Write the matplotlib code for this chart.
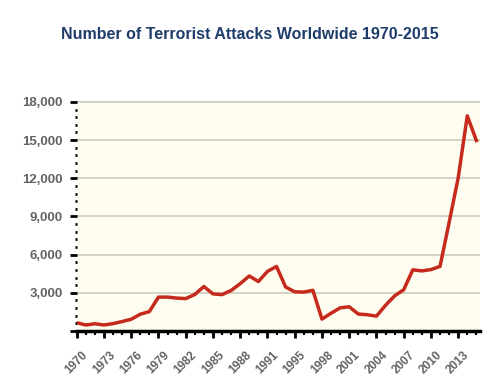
import matplotlib
matplotlib.use("Agg")
import matplotlib.pyplot as plt
from matplotlib.ticker import FuncFormatter, MultipleLocator

# GTD yearly counts (1993 missing from the source data)
years = [1970, 1971, 1972, 1973, 1974, 1975, 1976, 1977, 1978, 1979,
         1980, 1981, 1982, 1983, 1984, 1985, 1986, 1987, 1988, 1989,
         1990, 1991, 1992, 1994, 1995, 1996, 1997, 1998, 1999, 2000,
         2001, 2002, 2003, 2004, 2005, 2006, 2007, 2008, 2009, 2010,
         2011, 2012, 2013, 2014, 2015]
attacks = [651, 471, 568, 473, 581, 740, 923, 1319, 1526, 2662,
           2662, 2586, 2544, 2870, 3495, 2915, 2860, 3183, 3721, 4324,
           3887, 4683, 5071, 3456, 3081, 3058, 3197, 934, 1395, 1814,
           1906, 1333, 1278, 1166, 2017, 2758, 3242, 4805, 4721, 4826,
           5076, 8522, 12036, 16903, 14965]
y_ticks = [3000, 6000, 9000, 12000, 15000, 18000]

title_color = "#1f3d6b"
line_color = "#c62a1c"
label_color = "#636363"

fig = plt.figure(figsize=(5, 3.9), dpi=100)
ax = fig.add_axes([0.1534, 0.1513, 0.8066, 0.5923])
ax.set_facecolor("#fefdf0")

pos = list(range(len(years)))
ax.plot(pos, attacks, color=line_color, lw=2.5, solid_joinstyle="round", zorder=3)

ax.set_xlim(0, 44.4)
ax.set_ylim(0, 18150)

# gridlines
for v in y_ticks:
    ax.axhline(v, color="#cfcfc6", lw=1.3, zorder=1)

# y axis
ax.set_yticks([0] + y_ticks)
ax.yaxis.set_major_formatter(FuncFormatter(lambda v, p: "" if v == 0 else f"{int(v):,}"))
ax.yaxis.set_minor_locator(MultipleLocator(600))
ax.tick_params(axis="y", which="major", length=5, width=2, color="black",
               labelsize=9.5, labelcolor=label_color, pad=5)
ax.tick_params(axis="y", which="minor", length=1.5, width=2, color="black")
for t in ax.get_yticklabels():
    t.set_fontweight("bold")

# x axis, labelled every third data point
ax.set_xticks(pos[::3])
ax.set_xticklabels([str(years[i]) for i in pos[::3]], rotation=45,
                   ha="center", va="top", fontweight="bold")
ax.xaxis.set_minor_locator(MultipleLocator(1))
ax.tick_params(axis="x", which="major", length=5, width=2, color="black",
               labelsize=8.5, labelcolor=label_color, pad=8)
ax.tick_params(axis="x", which="minor", length=3, width=1.5, color="black")

for s in ["top", "right", "left"]:
    ax.spines[s].set_visible(False)
ax.spines["bottom"].set_linewidth(2.5)
ax.spines["bottom"].set_zorder(4)

fig.text(0.5, 0.912, "Number of Terrorist Attacks Worldwide 1970-2015",
         ha="center", va="center", fontsize=11.5, fontweight="bold",
         color=title_color, family="Liberation Sans")
for t in ax.get_xticklabels() + ax.get_yticklabels():
    t.set_family("Liberation Sans")

fig.savefig("out.png", dpi=100)
